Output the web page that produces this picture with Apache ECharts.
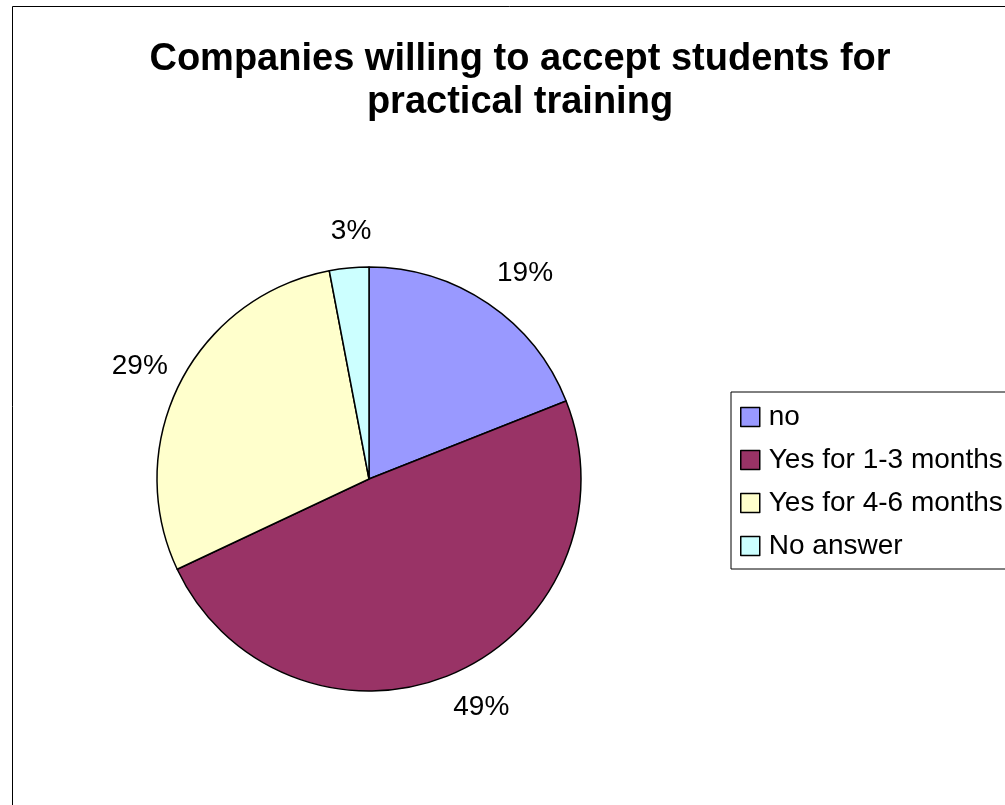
<!DOCTYPE html>
<html>
<head>
<meta charset="utf-8">
<script src="https://cdn.jsdelivr.net/npm/echarts@6/dist/echarts.min.js"></script>
<style>
  html, body { margin: 0; padding: 0; background: #fff; }
  #chart { width: 1005px; height: 805px; }
</style>
</head>
<body>
<div id="chart"></div>
<script>
// Survey answers: share of companies (percent)
const categories = ['no', 'Yes for 1-3 months', 'Yes for 4-6 months', 'No answer'];
const shares = [19, 49, 29, 3];
const sliceColors = ['#9999FF', '#993366', '#FFFFCC', '#CCFFFF'];
const titleLines = ['Companies willing to accept students for', 'practical training'];

const FONT = 'Liberation Sans, Arial, sans-serif';

// pie geometry
const PIE_CENTER = [369, 479];
const PIE_RADIUS = 212;
const LABEL_RING = [236, 264];            // labels sit at the middle of this ring
const LABEL_MID = (LABEL_RING[0] + LABEL_RING[1]) / 2;
// percentage labels are spread on a slightly wider-than-tall ellipse,
// nudged a little to the right of the pie centre
const LABEL_SHIFT_X = 7;
const LABEL_RX = 262;
const LABEL_RY = 246;

const pieData = categories.map((name, i) => ({
  name,
  value: shares[i],
  itemStyle: { color: sliceColors[i] }
}));

const chart = echarts.init(document.getElementById('chart'), null, { renderer: 'canvas' });

chart.setOption({
  backgroundColor: '#ffffff',
  animation: false,
  title: {
    text: titleLines.join('\n'),
    left: 515,
    top: 33,
    textAlign: 'center',
    textStyle: {
      fontFamily: FONT,
      fontWeight: 'bold',
      fontSize: 38,
      lineHeight: 43,
      color: '#000'
    }
  },
  legend: {
    orient: 'vertical',
    left: 731,
    top: 392,
    padding: [10.5, 60, 8.5, 9],
    borderColor: '#000',
    borderWidth: 1,
    backgroundColor: '#fff',
    itemWidth: 19,
    itemHeight: 19,
    itemGap: 14,
    icon: 'rect',
    data: categories.map((name, i) => ({
      name,
      itemStyle: { color: sliceColors[i], borderColor: '#000', borderWidth: 1.5 }
    })),
    textStyle: {
      fontFamily: FONT,
      fontSize: 28,
      lineHeight: 29,
      color: '#000',
      padding: [0, 0, 0, 4]
    }
  },
  graphic: [{
    type: 'rect',
    silent: true,
    z: -10,
    shape: { x: 12.5, y: 6.5, width: 1200, height: 1000 },
    style: { fill: 'none', stroke: '#000', lineWidth: 1 }
  }],
  series: [
    {
      // the pie itself
      type: 'pie',
      center: PIE_CENTER,
      radius: PIE_RADIUS,
      startAngle: 90,
      clockwise: true,
      silent: true,
      label: { show: false },
      labelLine: { show: false },
      itemStyle: { borderColor: '#000', borderWidth: 1.5 },
      data: pieData
    },
    {
      // invisible ring that carries the percentage labels just outside the pie
      type: 'pie',
      center: PIE_CENTER,
      radius: LABEL_RING,
      startAngle: 90,
      clockwise: true,
      silent: true,
      legendHoverLink: false,
      itemStyle: { color: 'rgba(0,0,0,0)', borderWidth: 0 },
      emphasis: { disabled: true },
      labelLine: { show: false },
      label: {
        show: true,
        position: 'inside',
        formatter: p => p.value + '%',
        fontFamily: FONT,
        fontSize: 28,
        color: '#000'
      },
      labelLayout: function (params) {
        const r = params.labelRect;
        const ux = (r.x + r.width / 2 - PIE_CENTER[0]) / LABEL_MID;
        const uy = (r.y + r.height / 2 - PIE_CENTER[1]) / LABEL_MID;
        return {
          dx: LABEL_SHIFT_X + (LABEL_RX - LABEL_MID) * ux,
          dy: (LABEL_RY - LABEL_MID) * uy
        };
      },
      data: categories.map((name, i) => ({ name, value: shares[i] }))
    }
  ]
});
</script>
</body>
</html>
